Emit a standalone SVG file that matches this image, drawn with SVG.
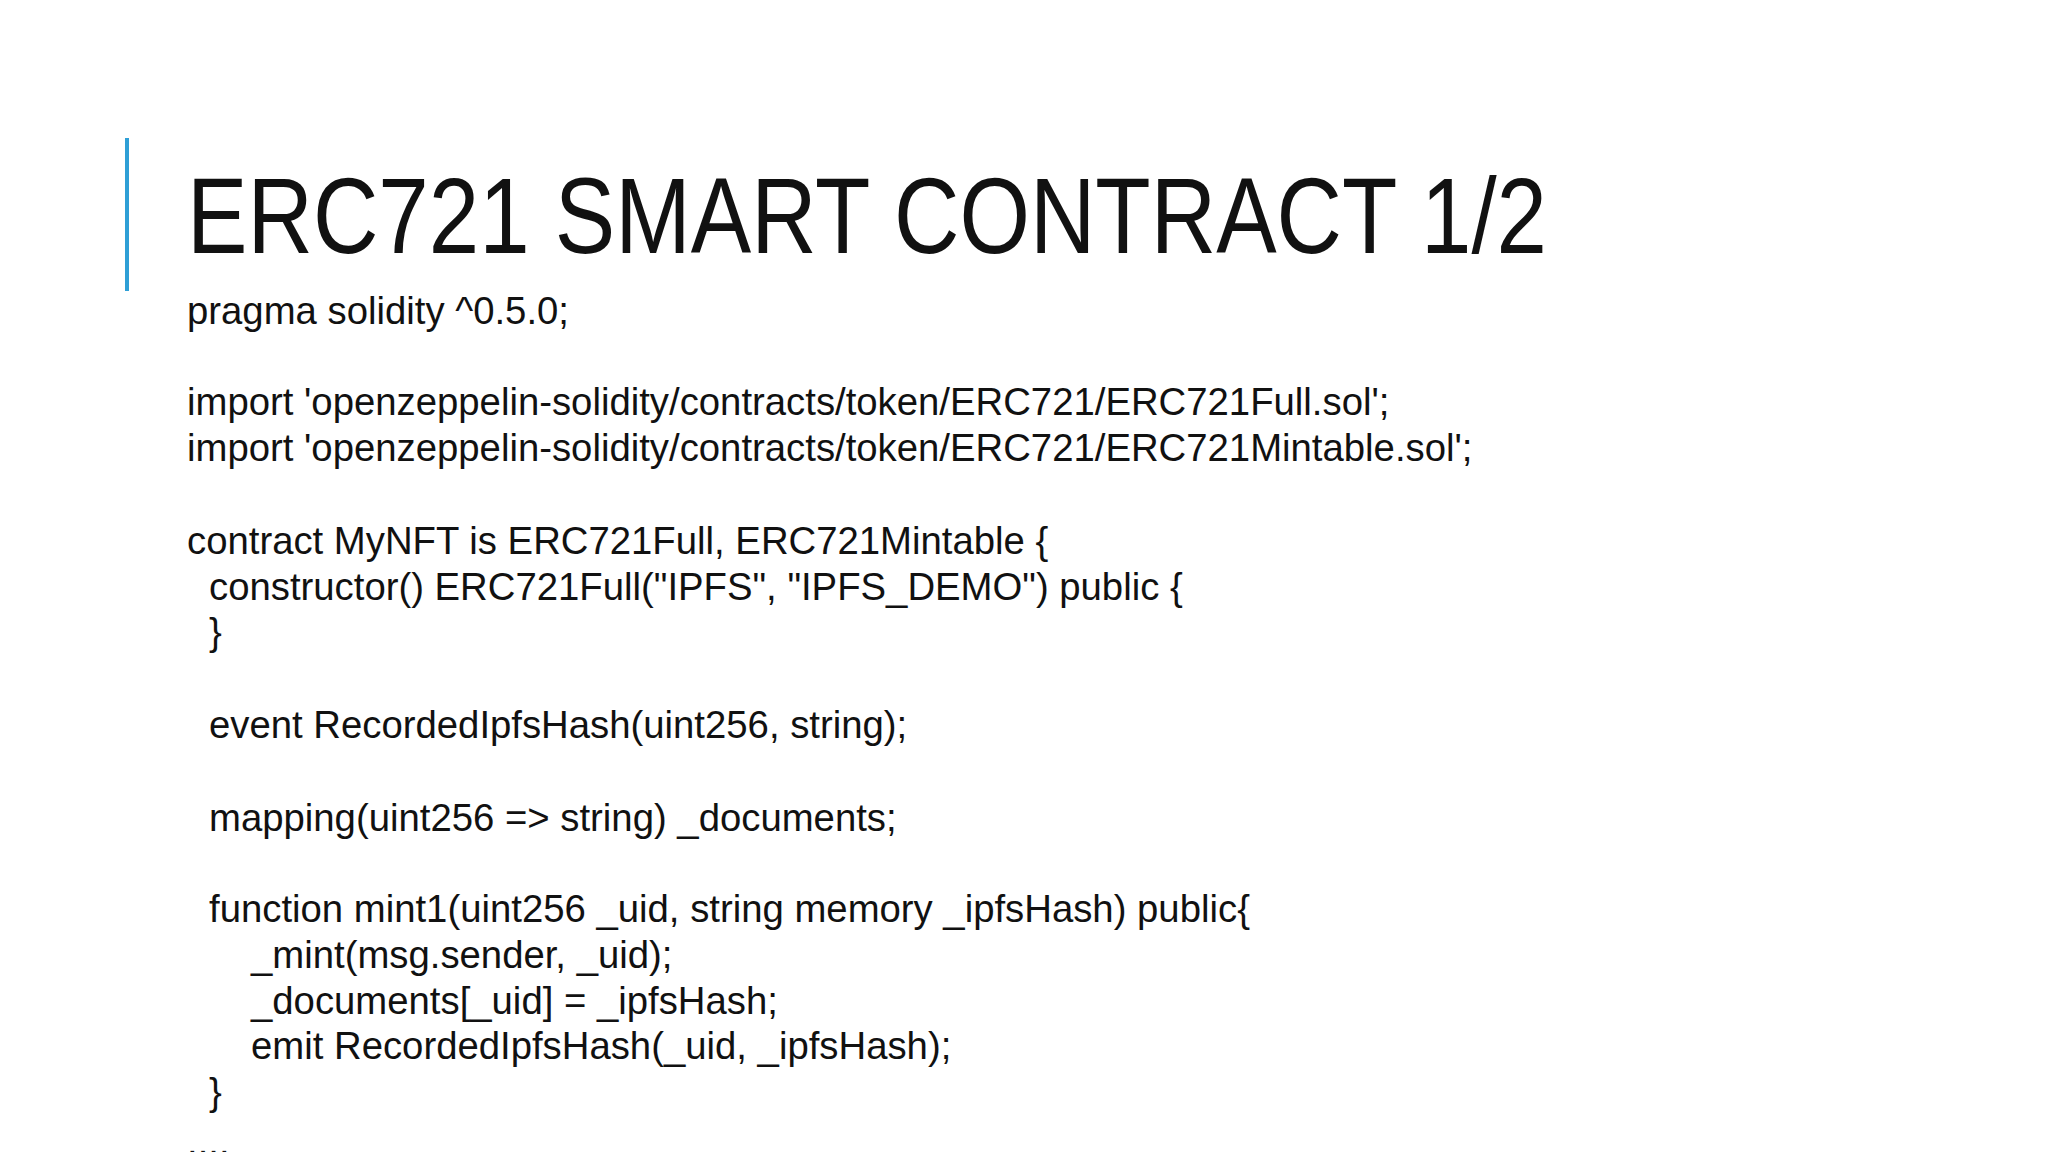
<svg xmlns="http://www.w3.org/2000/svg" width="2048" height="1152" viewBox="0 0 2048 1152">
<style>
.t{font-family:"Liberation Sans",Arial,sans-serif;font-size:108px;fill:#111}
.c{font-family:"Liberation Sans",Arial,sans-serif;font-size:38.3px;fill:#111}
</style>
<rect width="2048" height="1152" fill="#fff"/>
<g id="title">
<rect x="125" y="138" width="4" height="153" fill="#2e9fd6"/>
<text class="t" x="187" y="253" textLength="1360" lengthAdjust="spacingAndGlyphs">ERC721 SMART CONTRACT 1/2</text>
</g>
<g id="code">
<text class="c" x="187" y="324">pragma solidity ^0.5.0;</text>
<text class="c" x="187" y="415">import 'openzeppelin-solidity/contracts/token/ERC721/ERC721Full.sol';</text>
<text class="c" x="187" y="461">import 'openzeppelin-solidity/contracts/token/ERC721/ERC721Mintable.sol';</text>
<text class="c" x="187" y="554">contract MyNFT is ERC721Full, ERC721Mintable {</text>
<text class="c" x="209" y="600">constructor() ERC721Full("IPFS", "IPFS_DEMO") public {</text>
<text class="c" x="209" y="645">}</text>
<text class="c" x="209" y="738">event RecordedIpfsHash(uint256, string);</text>
<text class="c" x="209" y="831">mapping(uint256 =&gt; string) _documents;</text>
<text class="c" x="209" y="922">function mint1(uint256 _uid, string memory _ipfsHash) public{</text>
<text class="c" x="251" y="968">_mint(msg.sender, _uid);</text>
<text class="c" x="251" y="1014">_documents[_uid] = _ipfsHash;</text>
<text class="c" x="251" y="1059">emit RecordedIpfsHash(_uid, _ipfsHash);</text>
<text class="c" x="209" y="1105">}</text>
<text class="c" x="187" y="1155">....</text>
</g>
</svg>
